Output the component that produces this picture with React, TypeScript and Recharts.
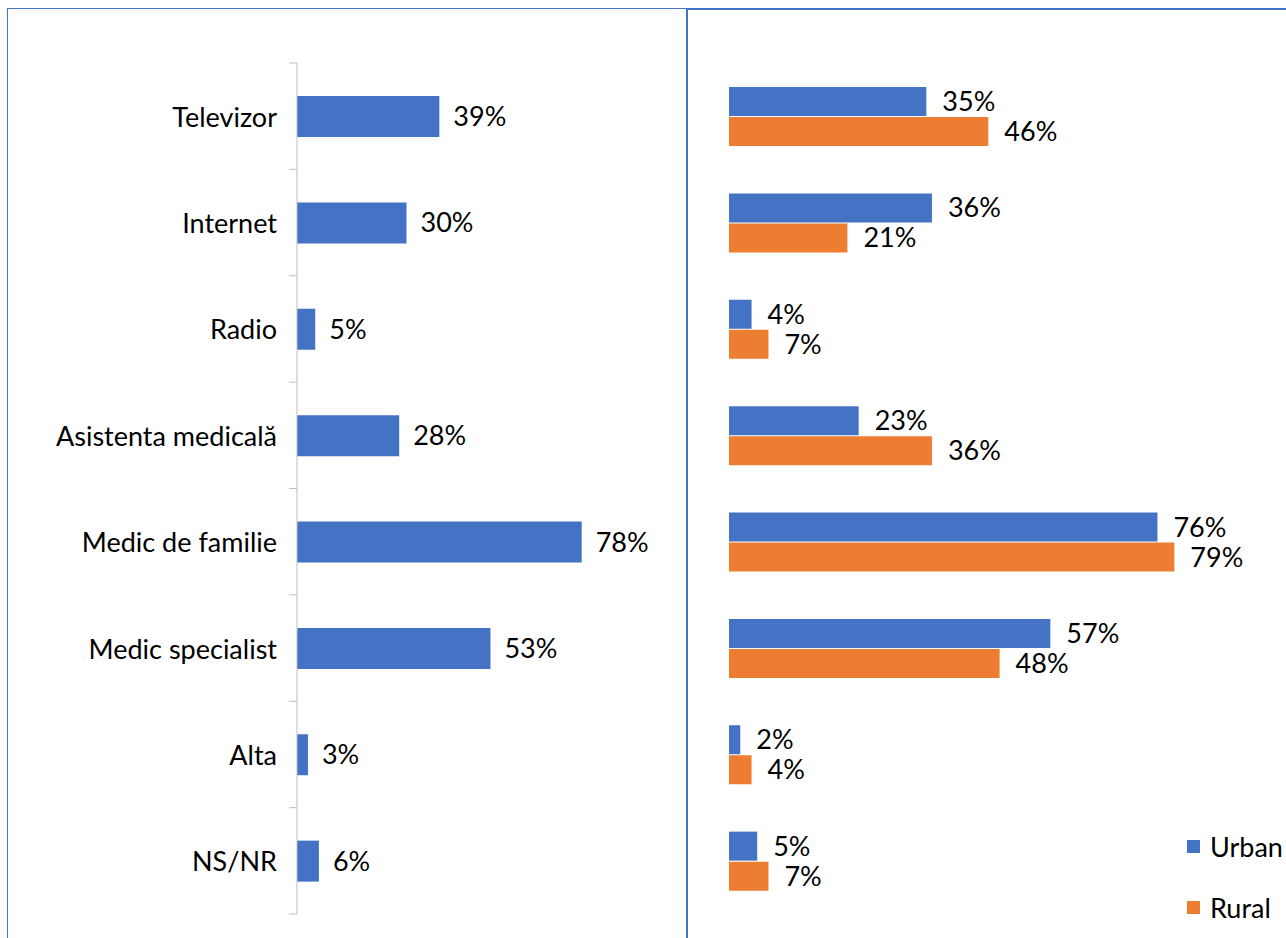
import { BarChart, Bar, XAxis, YAxis, LabelList, Legend } from 'recharts';

const categories = [
  'Televizor',
  'Internet',
  'Radio',
  'Asistenta medicală',
  'Medic de familie',
  'Medic specialist',
  'Alta',
  'NS/NR',
];
const totalValues = [39, 30, 5, 28, 78, 53, 3, 6];
const urbanValues = [35, 36, 4, 23, 76, 57, 2, 5];
const ruralValues = [46, 21, 7, 36, 79, 48, 4, 7];

const BLUE = '#4472C4';
const ORANGE = '#ED7D31';
const FONT = 'Lato, "Open Sans", sans-serif';
const FONT_SIZE = 27;

const CHART_H = 938;
const MARGIN_TOP = 63;
const MARGIN_BOTTOM = 24;
const BAND = (CHART_H - MARGIN_TOP - MARGIN_BOTTOM) / categories.length;

const totalData = categories.map((name, i) => ({ name, total: totalValues[i] }));
const splitData = categories.map((name, i) => ({ name, urban: urbanValues[i], rural: ruralValues[i] }));

const pct = (v: unknown) => `${v}%`;

// category label plus Excel-style tick marks sitting between categories
const CategoryTick = (props: any) => {
  const { x, y, payload, index } = props;
  const axisX = x + 20;
  const top = y - BAND / 2;
  const bottom = y + BAND / 2;
  return (
    <g>
      <line x1={axisX - 8} x2={axisX} y1={top} y2={top} stroke="#bfbfbf" strokeWidth={1} />
      {index === categories.length - 1 && (
        <line x1={axisX - 8} x2={axisX} y1={bottom} y2={bottom} stroke="#bfbfbf" strokeWidth={1} />
      )}
      <text
        x={x}
        y={y}
        textAnchor="end"
        dominantBaseline="central"
        fill="#000"
        fontSize={FONT_SIZE}
        fontFamily={FONT}
      >
        {payload.value}
      </text>
    </g>
  );
};

const LegendContent = () => (
  <div style={{ fontFamily: FONT, fontSize: FONT_SIZE, color: '#000' }}>
    {[
      { label: 'Urban', color: BLUE },
      { label: 'Rural', color: ORANGE },
    ].map((item) => (
      <div key={item.label} style={{ display: 'flex', alignItems: 'center', height: 61 }}>
        <span style={{ width: 13, height: 13, background: item.color, marginRight: 10, display: 'inline-block' }} />
        <span>{item.label}</span>
      </div>
    ))}
  </div>
);

export default function App() {
  return (
    <div
      style={{
        position: 'absolute',
        left: 0,
        top: 0,
        width: 1286,
        height: 938,
        overflow: 'hidden',
        background: '#fff',
        fontFamily: FONT,
      }}
    >
      {/* frames */}
      <div style={{ position: 'absolute', left: 7, top: 8, width: 680, height: 940, borderLeft: `1px solid ${BLUE}`, borderTop: `1px solid ${BLUE}` }} />
      <div style={{ position: 'absolute', left: 686, top: 8, width: 2, height: 940, background: BLUE }} />
      <div style={{ position: 'absolute', left: 686, top: 8, width: 600, height: 2, background: BLUE }} />

      <div style={{ position: 'absolute', left: 0, top: 0 }}>
        <BarChart
          width={680}
          height={CHART_H}
          data={totalData}
          layout="vertical"
          margin={{ top: MARGIN_TOP, right: 18, bottom: MARGIN_BOTTOM, left: 0 }}
        >
          <XAxis type="number" domain={[0, 100]} hide />
          <YAxis
            type="category"
            dataKey="name"
            width={297}
            axisLine={{ stroke: '#bfbfbf' }}
            tickLine={false}
            tickSize={8}
            tickMargin={12}
            tick={<CategoryTick />}
            interval={0}
          />
          <Bar dataKey="total" fill={BLUE} barSize={41} isAnimationActive={false}>
            <LabelList
              dataKey="total"
              position="right"
              offset={14}
              formatter={pct}
              fill="#000"
              fontSize={FONT_SIZE}
              fontFamily={FONT}
            />
          </Bar>
        </BarChart>
      </div>

      <div style={{ position: 'absolute', left: 690, top: 0 }}>
        <BarChart
          width={596}
          height={CHART_H}
          data={splitData}
          layout="vertical"
          barGap={1}
          margin={{ top: MARGIN_TOP, right: 106, bottom: MARGIN_BOTTOM, left: 39 }}
        >
          <XAxis type="number" domain={[0, 80]} hide />
          <YAxis type="category" dataKey="name" hide />
          <Legend
            layout="vertical"
            align="center"
            verticalAlign="middle"
            wrapperStyle={{ left: 497, top: 816, width: 100 }}
            content={<LegendContent />}
          />
          <Bar dataKey="urban" name="Urban" fill={BLUE} barSize={29} isAnimationActive={false}>
            <LabelList
              dataKey="urban"
              position="right"
              offset={16}
              formatter={pct}
              fill="#000"
              fontSize={FONT_SIZE}
              fontFamily={FONT}
            />
          </Bar>
          <Bar dataKey="rural" name="Rural" fill={ORANGE} barSize={29} isAnimationActive={false}>
            <LabelList
              dataKey="rural"
              position="right"
              offset={16}
              formatter={pct}
              fill="#000"
              fontSize={FONT_SIZE}
              fontFamily={FONT}
            />
          </Bar>
        </BarChart>
      </div>
    </div>
  );
}
